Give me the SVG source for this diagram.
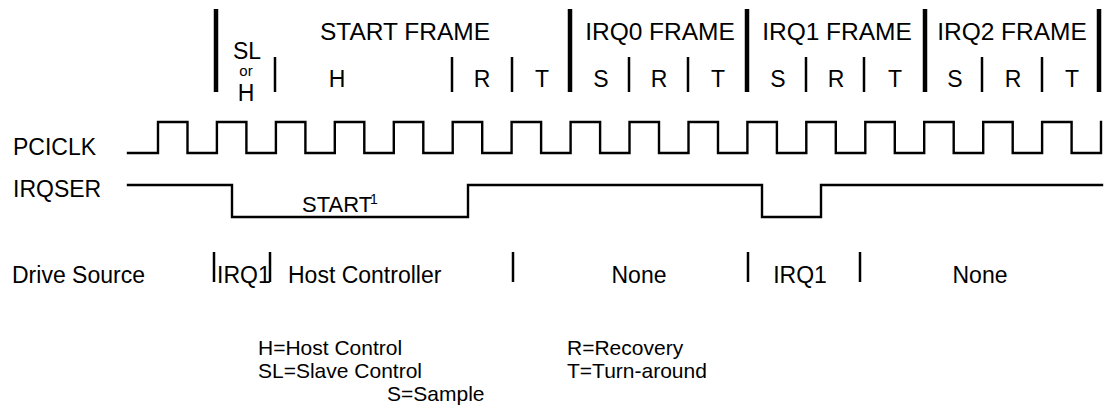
<svg xmlns="http://www.w3.org/2000/svg" width="1107" height="414" viewBox="0 0 1107 414">
<style>
text{font-family:"Liberation Sans",Arial,sans-serif;fill:#000;font-size:23px}
.c{text-anchor:middle}
.t{font-size:24.5px}
.sm{font-size:15px}
.lg{font-size:21px}
.thick{stroke:#000;stroke-width:4.5}
.thin{stroke:#000;stroke-width:2.5}
.bar{stroke:#000;stroke-width:2.5}
.wave{fill:none;stroke:#000;stroke-width:2.4;stroke-linecap:square;stroke-linejoin:miter}
</style>
<rect width="1107" height="414" fill="#fff"/>
<g id="header">
<g id="separators">
<line class="thick" x1="216" y1="9" x2="216" y2="92"/>
<line class="thick" x1="570" y1="9" x2="570" y2="92"/>
<line class="thick" x1="747" y1="9" x2="747" y2="92"/>
<line class="thick" x1="925" y1="9" x2="925" y2="92"/>
<line class="thick" x1="1099" y1="9" x2="1099" y2="92"/>
<line class="thin" x1="275" y1="57" x2="275" y2="92"/>
<line class="thin" x1="452" y1="57" x2="452" y2="92"/>
<line class="thin" x1="512" y1="57" x2="512" y2="92"/>
<line class="thin" x1="629" y1="57" x2="629" y2="92"/>
<line class="thin" x1="688" y1="57" x2="688" y2="92"/>
<line class="thin" x1="806" y1="57" x2="806" y2="92"/>
<line class="thin" x1="864" y1="57" x2="864" y2="92"/>
<line class="thin" x1="982" y1="57" x2="982" y2="92"/>
<line class="thin" x1="1042" y1="57" x2="1042" y2="92"/>
</g>
<g id="slot-sl">
<text class="c" x="247" y="59">SL</text>
<text class="c sm" x="246" y="76">or</text>
<text class="c" x="246" y="101">H</text>
</g>
<g id="start-frame">
<text class="c t" x="405" y="40">START FRAME</text>
<text class="c" x="337" y="87">H</text>
<text class="c" x="482" y="87">R</text>
<text class="c" x="542" y="87">T</text>
</g>
<g id="irq0-frame">
<text class="c t" x="660" y="40">IRQ0 FRAME</text>
<text class="c" x="601" y="87">S</text>
<text class="c" x="659" y="87">R</text>
<text class="c" x="718" y="87">T</text>
</g>
<g id="irq1-frame">
<text class="c t" x="837" y="40">IRQ1 FRAME</text>
<text class="c" x="778" y="87">S</text>
<text class="c" x="836" y="87">R</text>
<text class="c" x="895" y="87">T</text>
</g>
<g id="irq2-frame">
<text class="c t" x="1012" y="40">IRQ2 FRAME</text>
<text class="c" x="955" y="87">S</text>
<text class="c" x="1013" y="87">R</text>
<text class="c" x="1072" y="87">T</text>
</g>
</g>
<g id="pciclk">
<text x="13" y="155">PCICLK</text>
<path class="wave" d="M128,153 H158 V122 H187.5 V153 H216.9 V122 H246.4 V153 H275.9 V122 H305.4 V153 H334.8 V122 H364.3 V153 H393.8 V122 H423.3 V153 H452.7 V122 H482.2 V153 H511.6 V122 H541.1 V153 H570.6 V122 H600.1 V153 H629.5 V122 H659 V153 H688.5 V122 H718 V153 H747.4 V122 H776.9 V153 H806.3 V122 H835.8 V153 H865.3 V122 H894.8 V153 H924.2 V122 H953.7 V153 H983.2 V122 H1012.7 V153 H1042.1 V122 H1071.6 V153 H1101 V122"/>
</g>
<g id="irqser">
<text x="13" y="197">IRQSER</text>
<path class="wave" d="M128,185 H232 V217 H468 V185 H762 V217 H821 V185 H1102"/>
<text x="302" y="212" style="font-size:22px">START</text>
<text x="370" y="204" style="font-size:14px">1</text>
</g>
<g id="drive-source">
<text x="12" y="283">Drive Source</text>
<line class="bar" x1="214" y1="252" x2="214" y2="282"/>
<text x="217" y="283">IRQ1</text>
<line class="bar" x1="270" y1="252" x2="270" y2="282"/>
<text x="288" y="283">Host Controller</text>
<line class="bar" x1="513" y1="252" x2="513" y2="282"/>
<text class="c" x="639" y="283">None</text>
<line class="bar" x1="748" y1="252" x2="748" y2="282"/>
<text class="c" x="800" y="283">IRQ1</text>
<line class="bar" x1="860" y1="252" x2="860" y2="282"/>
<text class="c" x="980" y="283">None</text>
</g>
<g id="legend">
<text class="lg" x="258" y="355">H=Host Control</text>
<text class="lg" x="258" y="378">SL=Slave Control</text>
<text class="lg" x="387" y="401">S=Sample</text>
<text class="lg" x="567" y="355">R=Recovery</text>
<text class="lg" x="567" y="378">T=Turn-around</text>
</g>
</svg>
